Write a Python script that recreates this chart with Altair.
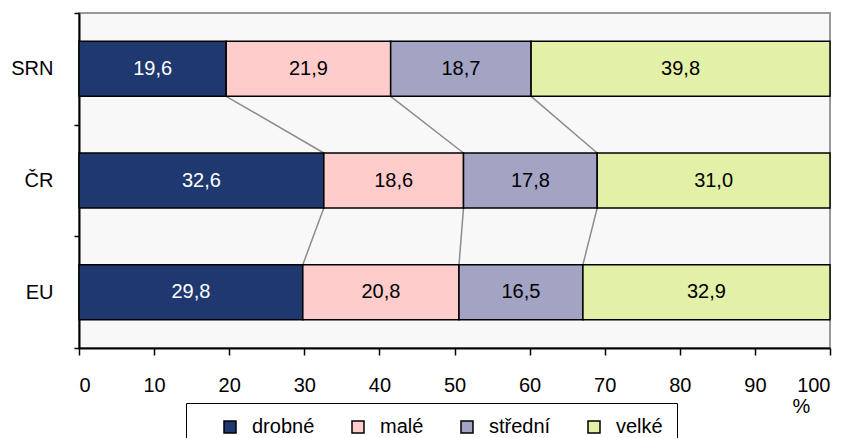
import altair as alt
import pandas as pd
import numpy as np

countries = ["SRN", "ČR", "EU"]
sizes = ["drobné", "malé", "střední", "velké"]
srn = [19.6, 21.9, 18.7, 39.8]
cr = [32.6, 18.6, 17.8, 31.0]
eu = [29.8, 20.8, 16.5, 32.9]
colors = ["#1f3870", "#ffcccc", "#a3a3c3", "#e3f0a8"]
x_ticks = list(range(0, 101, 10))

series = [srn, cr, eu]
rows = []
for c, vals in zip(countries, series):
    for i, (s, v) in enumerate(zip(sizes, vals)):
        rows.append({"country": c, "size": s, "value": v, "order": i,
                     "label": f"{v:.1f}".replace(".", ",")})
df = pd.DataFrame(rows)

conn = []
for k in range(len(series) - 1):
    a = np.cumsum(series[k])[:-1]
    b = np.cumsum(series[k + 1])[:-1]
    for xa, xb in zip(a, b):
        conn.append({"c1": countries[k], "c2": countries[k + 1],
                     "xa": round(float(xa), 1), "xb": round(float(xb), 1)})
cdf = pd.DataFrame(conn)

FONT = "Liberation Sans"
FS = 20

yscale = alt.Scale(domain=countries, paddingInner=0, paddingOuter=0)
xscale = alt.Scale(domain=[0, 100], nice=False)

yaxis = alt.Axis(title=None, tickBand="extent", domainColor="black", domainWidth=2,
                 tickColor="black", tickWidth=1.5, tickSize=5, labelPadding=21,
                 labelFontSize=FS, labelColor="black", grid=False)
xaxis = alt.Axis(values=x_ticks, title="%", titleX=722, titleY=58, titleFontWeight="normal",
                 titleFontSize=FS, titleColor="black", titleBaseline="middle", titleAlign="center",
                 domainColor="black", domainWidth=2, tickColor="black", tickWidth=1.5,
                 tickSize=7, labelPadding=20, labelFontSize=FS, labelColor="black", grid=False)

base = alt.Chart(df).transform_stack(
    stack="value", as_=["x0", "x1"], groupby=["country"], sort=[alt.SortField("order")]
).transform_calculate(mid="(datum.x0 + datum.x1) / 2")

bars = base.mark_bar(size=55, stroke="black", strokeWidth=1.5).encode(
    x=alt.X("x0:Q", scale=xscale, axis=xaxis),
    x2="x1:Q",
    y=alt.Y("country:N", scale=yscale, sort=countries, axis=yaxis),
    color=alt.Color("size:N", scale=alt.Scale(domain=sizes, range=colors),
                    legend=alt.Legend(title=" ", titleOrient="left", titlePadding=20,
                                      orient="none", legendX=107, legendY=390,
                                      direction="horizontal", columns=4,
                                      symbolType="square", symbolSize=144,
                                      symbolStrokeColor="black", symbolStrokeWidth=1.5,
                                      labelFontSize=FS, labelColor="black", labelOffset=12,
                                      columnPadding=33, strokeColor="black", padding=14,
                                      fillColor="white")),
)

labels = base.mark_text(fontSize=FS, baseline="middle", align="center").encode(
    x=alt.X("mid:Q", scale=xscale),
    y=alt.Y("country:N", scale=yscale, sort=countries),
    text="label:N",
    color=alt.condition(alt.datum.size == "drobné", alt.value("white"), alt.value("black")),
)

lines = alt.Chart(cdf).mark_rule(color="#8c8c8c", strokeWidth=1.5, yOffset=27.5, y2Offset=-27.5).encode(
    x=alt.X("xa:Q", scale=xscale),
    x2="xb:Q",
    y=alt.Y("c1:N", scale=yscale, sort=countries, bandPosition=0.5),
    y2=alt.Y2("c2:N", bandPosition=0.5),
)

chart = alt.layer(lines, bars, labels).properties(
    width=751, height=335, autosize="none",
    padding={"left": 71, "top": 5, "right": 11, "bottom": 90},
).configure(font=FONT).configure_view(fill="#f8f8f8", stroke="#999999", strokeWidth=2)

chart.save("out.html", embed_options={"renderer": "svg", "actions": False})
